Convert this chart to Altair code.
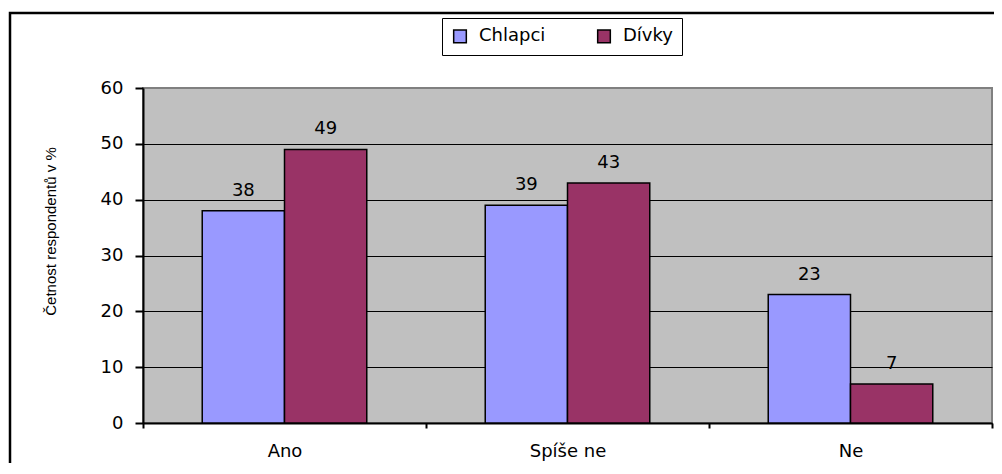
import altair as alt
import pandas as pd

categories = ["Ano", "Spíše ne", "Ne"]
series = ["Chlapci", "Dívky"]
chlapci = [38, 39, 23]
divky = [49, 43, 7]
colors = ["#9999FF", "#993366"]
y_ticks = [0, 10, 20, 30, 40, 50, 60]

rows = []
for c, a, b in zip(categories, chlapci, divky):
    rows.append({"kat": c, "pohlavi": series[0], "hodnota": a})
    rows.append({"kat": c, "pohlavi": series[1], "hodnota": b})
df = pd.DataFrame(rows)

FONT = "DejaVu Sans"
TITLE_FONT = "Liberation Sans, Arial, sans-serif"

x = alt.X(
    "kat:N", sort=categories, title=None,
    scale=alt.Scale(paddingInner=0, paddingOuter=0),
    axis=alt.Axis(
        tickBand="extent", labelAngle=0, labelFont=FONT, labelFontSize=18,
        labelColor="black", labelPadding=14, tickSize=5, tickColor="black",
        tickWidth=2, domainColor="black", domainWidth=2, grid=False,
    ),
)
y = alt.Y(
    "hodnota:Q",
    scale=alt.Scale(domain=[0, 60], nice=False, zero=True),
    axis=alt.Axis(
        values=y_ticks, title="Četnost respondentů v %",
        titleFont=TITLE_FONT, titleFontSize=15, titleFontWeight="normal",
        titleColor="black", titleX=-85, titleY=143, titleAngle=270,
        titleAlign="center", titleBaseline="bottom",
        labelFont=FONT, labelFontSize=18, labelColor="black", labelPadding=12,
        tickSize=8, tickColor="black", tickWidth=2,
        domainColor="black", domainWidth=2,
        grid=True,
        gridColor=alt.condition("datum.value === 60", alt.value("#808080"), alt.value("black")),
        gridWidth=1, gridOpacity=1,
    ),
)
xoff = alt.XOffset("pohlavi:N", sort=series,
                   scale=alt.Scale(paddingOuter=0.72, paddingInner=0))

bars = alt.Chart(df).mark_bar(stroke="black", strokeWidth=1.5, opacity=1).encode(
    x=x, y=y, xOffset=xoff,
    color=alt.Color(
        "pohlavi:N",
        scale=alt.Scale(domain=series, range=colors),
        legend=alt.Legend(
            title=None, orient="none", legendX=299, legendY=-70,
            direction="horizontal", gridAlign="all", columnPadding=48,
            padding=9, strokeColor="black", fillColor="white",
            symbolType="square", symbolSize=160, symbolStrokeColor="black",
            symbolStrokeWidth=1.5, symbolOpacity=1, labelOffset=10,
            labelFont=FONT, labelFontSize=18, labelColor="black",
        ),
    ),
)

text = alt.Chart(df).mark_text(
    dy=-15, baseline="alphabetic", font=FONT, fontSize=18, color="black"
).encode(x=x, y=y, xOffset=xoff, text="hodnota:Q")

border = alt.Chart(alt.Data(values=[{}])).mark_rect(
    filled=False, stroke="black", strokeWidth=2.5
).encode(x=alt.value(-133), x2=alt.value(1100), y=alt.value(-75), y2=alt.value(700))

chart = alt.layer(border, bars, text).properties(
    width=849, height=335,
    autosize=alt.AutoSizeParams(type="none"),
    padding={"left": 135, "top": 80, "right": 2, "bottom": 40},
    background="white",
).configure_view(fill="#C0C0C0", stroke="#808080", strokeWidth=2)

chart.save("out.html", embed_options={"renderer": "svg", "actions": False})
